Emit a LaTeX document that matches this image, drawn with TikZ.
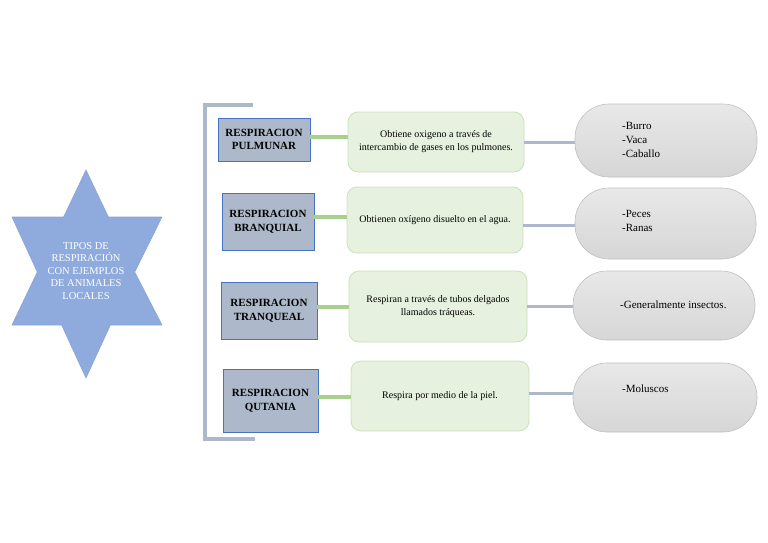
\documentclass[tikz,border=0pt]{standalone}
\usepackage{fontspec}
\setmainfont{Liberation Serif}
\definecolor{starblue}{HTML}{8FAADC}
\definecolor{starline}{HTML}{8AA5D8}
\definecolor{boxfill}{HTML}{ADB9CA}
\definecolor{boxline}{HTML}{4472C4}
\definecolor{greenfill}{HTML}{E6F1DF}
\definecolor{greenline}{HTML}{C9E2B8}
\definecolor{greenconn}{HTML}{A9D18E}
\definecolor{grayconn}{HTML}{ADB9CA}
\definecolor{pillline}{HTML}{BFBFBF}
\tikzset{
  catbox/.style={draw=boxline, line width=0.8pt, fill=boxfill, align=center, inner sep=0pt,
    font=\fontsize{11}{13.5}\selectfont\bfseries},
  descbox/.style={draw=greenline, line width=0.8pt, fill=greenfill, rounded corners=10pt, align=center, inner sep=0pt,
    font=\fontsize{10}{13}\selectfont},
  pill/.style={draw=pillline, line width=0.6pt, top color=gray!18, bottom color=gray!32, rounded corners=34pt, inner sep=0pt},
  pilltext/.style={anchor=north west, align=left, inner sep=0pt, font=\fontsize{11}{14}\selectfont},
  gconn/.style={draw=greenconn, line width=4pt},
  sconn/.style={draw=grayconn, line width=3pt},
  brack/.style={draw=grayconn, line width=4pt},
}
\begin{document}
\begin{tikzpicture}[x=1pt,y=-1pt]
\useasboundingbox (0,0) rectangle (768,543);
% star
\fill[starblue, draw=starline, line width=0.6pt] (86,170) -- (108.4,217) -- (162,217) -- (134.7,272) -- (162,325) -- (110.4,325) -- (86,378) -- (61.6,325) -- (12,325) -- (37.3,272) -- (12,217) -- (63.6,217) -- cycle;
\node[text=white, align=center, font=\fontsize{10.5}{12.5}\selectfont, inner sep=0pt] (star) at (86,271) {TIPOS DE\\RESPIRACIÓN\\CON EJEMPLOS\\DE ANIMALES\\LOCALES};
% bracket
\coordinate (bt) at (253,105);
\coordinate (bb) at (255,439);
\draw[brack] (bt) -- (205,105) -- (205,439) -- (bb);
% category boxes
\node[catbox, minimum width=92pt, minimum height=43pt] (b1) at (264,139.5) {RESPIRACION\\PULMUNAR};
\node[catbox, minimum width=92pt, minimum height=57pt] (b2) at (268,221.5) {RESPIRACION\\BRANQUIAL};
\node[catbox, minimum width=96pt, minimum height=57pt] (b3) at (269,310.5) {RESPIRACION\\TRANQUEAL};
\node[catbox, minimum width=95pt, minimum height=63pt] (b4) at (270.5,400.5) {RESPIRACION\\QUTANIA};
% description boxes
\node[descbox, minimum width=176pt, minimum height=60pt] (g1) at (436,142) {Obtiene oxigeno a través de\\intercambio de gases en los pulmones.};
\node[descbox, minimum width=176pt, minimum height=66pt] (g2) at (435,220) {Obtienen oxígeno disuelto en el agua.};
\node[descbox, minimum width=178pt, minimum height=71pt] (g3) at (438,306.5) {Respiran a través de tubos delgados\\llamados tráqueas.};
\node[descbox, minimum width=178pt, minimum height=70pt] (g4) at (440,396) {Respira por medio de la piel.};
% pills
\node[pill, minimum width=182pt, minimum height=73pt] (p1) at (666,140.5) {};
\node[pill, minimum width=181pt, minimum height=71pt] (p2) at (665.5,223.5) {};
\node[pill, minimum width=182pt, minimum height=69pt] (p3) at (664,305.5) {};
\node[pill, minimum width=184pt, minimum height=69pt] (p4) at (665,397.5) {};
\node[pilltext] (t1) at (622,122) {-Burro\\-Vaca\\-Caballo};
\node[pilltext] (t2) at (622,210) {-Peces\\-Ranas};
\node[pilltext] (t3) at (620,301) {-Generalmente insectos.};
\node[pilltext] (t4) at (622,385) {-Moluscos};
% green connectors
\draw[gconn] (b1.east |- 0,137) -- (g1.west |- 0,137);
\draw[gconn] (b2.east |- 0,217) -- (g2.west |- 0,217);
\draw[gconn] (b3.east |- 0,307) -- (g3.west |- 0,307);
\draw[gconn] (b4.east |- 0,397) -- (g4.west |- 0,397);
% gray connectors
\draw[sconn] (g1.east |- 0,142) -- (p1.west |- 0,142);
\draw[sconn] (g2.east |- 0,225) -- (p2.west |- 0,225);
\draw[sconn] (g3.east |- 0,306) -- (p3.west |- 0,306);
\draw[sconn] (g4.east |- 0,393) -- (p4.west |- 0,393);
\end{tikzpicture}
\end{document}
